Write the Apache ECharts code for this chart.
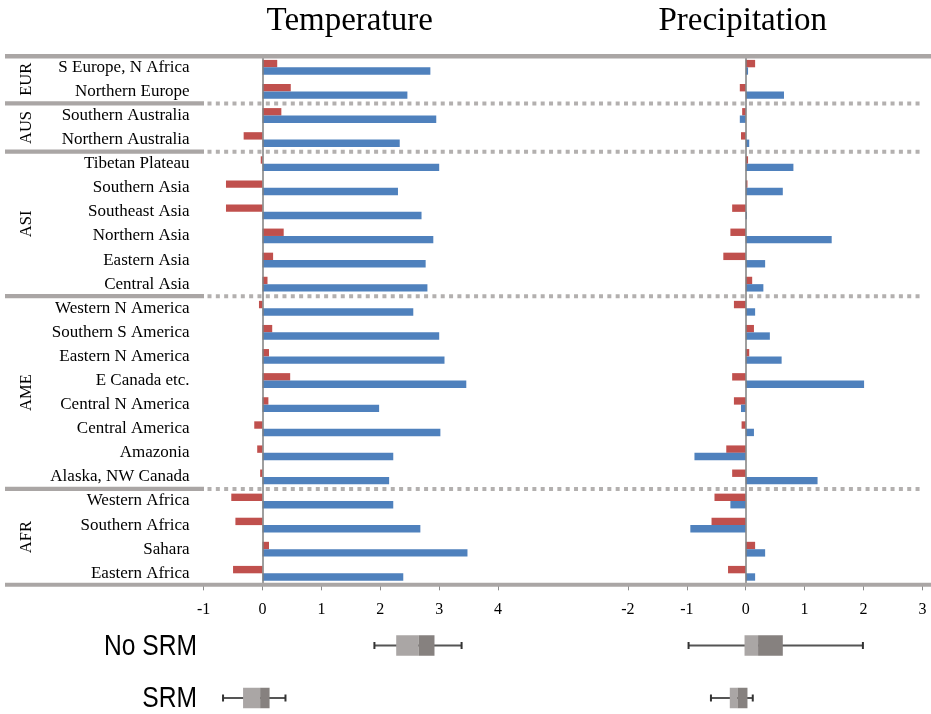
<!DOCTYPE html>
<html>
<head>
<meta charset="utf-8">
<script src="https://cdn.jsdelivr.net/npm/echarts@6/dist/echarts.min.js"></script>
<style>
html,body{margin:0;padding:0;background:#fff;}
#chart{width:931px;height:714px;}
</style>
</head>
<body>
<div id="chart"></div>
<script>
// ---------- data ----------
const categories = ['S Europe, N Africa','Northern Europe','Southern Australia','Northern Australia',
  'Tibetan Plateau','Southern Asia','Southeast Asia','Northern Asia','Eastern Asia','Central Asia',
  'Western N America','Southern S America','Eastern N America','E Canada etc.','Central N America',
  'Central America','Amazonia','Alaska, NW Canada','Western Africa','Southern Africa','Sahara','Eastern Africa'];

const tempSRM   = [0.25,0.48,0.32,-0.32,-0.03,-0.62,-0.62,0.36,0.18,0.085,-0.06,0.165,0.11,0.47,0.10,-0.14,-0.09,-0.04,-0.53,-0.46,0.11,-0.50];
const tempNoSRM = [2.85,2.46,2.95,2.33,3.00,2.30,2.70,2.90,2.77,2.80,2.56,3.00,3.09,3.46,1.98,3.02,2.22,2.15,2.22,2.68,3.48,2.39];
const precSRM   = [0.16,-0.10,-0.06,-0.08,0.04,0.03,-0.23,-0.26,-0.38,0.11,-0.20,0.14,0.06,-0.23,-0.20,-0.07,-0.33,-0.23,-0.53,-0.58,0.16,-0.30];
const precNoSRM = [0.04,0.65,-0.10,0.06,0.81,0.63,0.02,1.46,0.33,0.30,0.16,0.41,0.61,2.01,-0.08,0.14,-0.87,1.22,-0.26,-0.94,0.33,0.16];

const groupNames = ['EUR','AUS','ASI','AME','AFR'];
const groupFirst = [0,2,4,10,18];
const groupLast  = [1,3,9,17,21];

const tempTicks = [-1,0,1,2,3,4];
const precTicks = [-2,-1,0,1,2,3];

const boxRows = ['No SRM','SRM'];
// [min, q1, median, q3, max]
const boxTempNoSRM = [1.90,2.27,2.65,2.92,3.38];
const boxTempSRM   = [-0.67,-0.33,-0.04,0.12,0.39];
const boxPrecNoSRM = [-0.97,-0.02,0.21,0.63,1.99];
const boxPrecSRM   = [-0.59,-0.27,-0.14,0.03,0.12];

const panelTitles = ['Temperature','Precipitation'];

// ---------- styles ----------
const RED = '#c0504d', BLUE = '#4f81bd';
const SERIF = '"Liberation Serif","Times New Roman",serif';
const SANS = '"Liberation Sans",Arial,sans-serif';
const SEP = '#aaa6a5', DASH = '#b3b0af';

const chart = echarts.init(document.getElementById('chart'), null, {renderer:'canvas'});

const gTop = 55.25, gH = 530.1;
const U = 58.9;
const tempLeft = 262.5 - U, precLeft = 745.7 - 2*U;

function valueAxis(gi, min, max, show) {
  return {
    type:'value', gridIndex:gi, min:min, max:max, interval:1,
    show: show,
    axisLine:{show:false},
    axisTick:{show:true, length:5, lineStyle:{color:'#8c8c8c', width:1}},
    splitLine:{show:false},
    axisLabel:{show:true, margin:16, color:'#000', fontFamily:SERIF, fontSize:16,
      formatter: v => String(v)}
  };
}
function boxYAxis(gi) {
  return {type:'value', gridIndex:gi, min:-0.5, max:1.3, inverse:true, show:false, splitLine:{show:false}};
}

function boxRender(params, api) {
  const yi = api.value(0);
  const pMin = api.coord([api.value(1), yi]);
  const pQ1 = api.coord([api.value(2), yi]);
  const pMed = api.coord([api.value(3), yi]);
  const pQ3 = api.coord([api.value(4), yi]);
  const pMax = api.coord([api.value(5), yi]);
  const y = pMin[1], bh = 20.5, ch = 7;
  return {
    type:'group',
    children:[
      {type:'line', shape:{x1:pMin[0], y1:y, x2:pMax[0], y2:y}, style:{stroke:'#555', lineWidth:2}},
      {type:'line', shape:{x1:pMin[0], y1:y-ch/2, x2:pMin[0], y2:y+ch/2}, style:{stroke:'#333', lineWidth:2}},
      {type:'line', shape:{x1:pMax[0], y1:y-ch/2, x2:pMax[0], y2:y+ch/2}, style:{stroke:'#333', lineWidth:2}},
      {type:'rect', shape:{x:pQ1[0], y:y-bh/2, width:pMed[0]-pQ1[0], height:bh}, style:{fill:'#aaa6a5'}},
      {type:'rect', shape:{x:pMed[0], y:y-bh/2, width:pQ3[0]-pMed[0], height:bh}, style:{fill:'#86817f'}}
    ]
  };
}

const zeroLine = {
  silent:true, symbol:'none', label:{show:false},
  lineStyle:{color:'#7f7f7f', width:1.5, type:'solid'},
  data:[{xAxis:0}]
};

const option = {
  animation:false,
  grid:[
    {left:tempLeft, top:gTop, width:5*U, height:gH},
    {left:precLeft, top:gTop, width:5*U, height:gH},
    {left:tempLeft, top:619.25, width:5*U, height:94.5},
    {left:precLeft, top:619.25, width:5*U, height:94.5}
  ],
  xAxis:[
    valueAxis(0, tempTicks[0], tempTicks[tempTicks.length-1], true),
    valueAxis(1, precTicks[0], precTicks[precTicks.length-1], true),
    valueAxis(2, tempTicks[0], tempTicks[tempTicks.length-1], false),
    valueAxis(3, precTicks[0], precTicks[precTicks.length-1], false)
  ],
  yAxis:[
    {type:'category', gridIndex:0, data:categories, inverse:true,
     axisLine:{show:false}, axisTick:{show:false},
     axisLabel:{margin:14, color:'#000', fontFamily:SERIF, fontSize:17}},
    {type:'category', gridIndex:1, data:categories, inverse:true, show:false},
    boxYAxis(2),
    boxYAxis(3)
  ],
  series:[
    {type:'bar', name:'SRM T', xAxisIndex:0, yAxisIndex:0, data:tempSRM, barWidth:7.4, barGap:'0%', itemStyle:{color:RED}},
    {type:'bar', name:'No SRM T', xAxisIndex:0, yAxisIndex:0, data:tempNoSRM, barWidth:7.4, barGap:'0%', itemStyle:{color:BLUE}, markLine:zeroLine},
    {type:'bar', name:'SRM P', xAxisIndex:1, yAxisIndex:1, data:precSRM, barWidth:7.4, barGap:'0%', itemStyle:{color:RED}},
    {type:'bar', name:'No SRM P', xAxisIndex:1, yAxisIndex:1, data:precNoSRM, barWidth:7.4, barGap:'0%', itemStyle:{color:BLUE}, markLine:zeroLine},
    {type:'custom', xAxisIndex:2, yAxisIndex:2, renderItem:boxRender, encode:{x:[1,2,3,4,5], y:0},
     data:[[0].concat(boxTempNoSRM), [1].concat(boxTempSRM)]},
    {type:'custom', xAxisIndex:3, yAxisIndex:3, renderItem:boxRender, encode:{x:[1,2,3,4,5], y:0},
     data:[[0].concat(boxPrecNoSRM), [1].concat(boxPrecSRM)]}
  ]
};
chart.setOption(option);

// ---------- decorations (separators, group labels, titles) ----------
function rowY(i){ return chart.convertToPixel({yAxisIndex:0}, categories[i]); }
const half = (rowY(1) - rowY(0)) / 2;
const g = [];
const topY = rowY(0) - half + 1;
const botY = rowY(categories.length-1) + half - 0.7;
g.push({type:'line', z:50, shape:{x1:5, y1:topY, x2:931, y2:topY}, style:{stroke:SEP, lineWidth:4.5}});
g.push({type:'line', z:50, shape:{x1:5, y1:botY, x2:931, y2:botY}, style:{stroke:SEP, lineWidth:4}});
for (let k = 1; k < groupFirst.length; k++) {
  const y = rowY(groupFirst[k]) - half;
  g.push({type:'line', z:50, shape:{x1:5, y1:y, x2:204, y2:y}, style:{stroke:SEP, lineWidth:4.2}});
  g.push({type:'line', z:50, shape:{x1:207.5, y1:y, x2:922, y2:y}, style:{stroke:DASH, lineWidth:4, lineDash:[4,4.33]}});
}
for (let k = 0; k < groupNames.length; k++) {
  const yc = (rowY(groupFirst[k]) + rowY(groupLast[k])) / 2;
  g.push({type:'text', x:27, y:yc, rotation:Math.PI/2,
    style:{text:groupNames[k], x:0, y:0, align:'center', verticalAlign:'middle', fill:'#000', font:'16.5px ' + SERIF}});
}
const titleX = [chart.convertToPixel({xAxisIndex:0}, 1.48), chart.convertToPixel({xAxisIndex:1}, -0.05)];
for (let k = 0; k < panelTitles.length; k++) {
  g.push({type:'text', x:titleX[k], y:21,
    style:{text:panelTitles[k], x:0, y:0, align:'center', verticalAlign:'middle', fill:'#000', font:'33px ' + SERIF}});
}
const boxY = [chart.convertToPixel({yAxisIndex:2}, 0), chart.convertToPixel({yAxisIndex:2}, 1)];
for (let k = 0; k < boxRows.length; k++) {
  g.push({type:'text', x:197, y:boxY[k] + 1, scaleX:0.82,
    style:{text:boxRows[k], x:0, y:0, align:'right', verticalAlign:'middle', fill:'#000', font:'30px ' + SANS}});
}
chart.setOption({graphic:g});
</script>
</body>
</html>
